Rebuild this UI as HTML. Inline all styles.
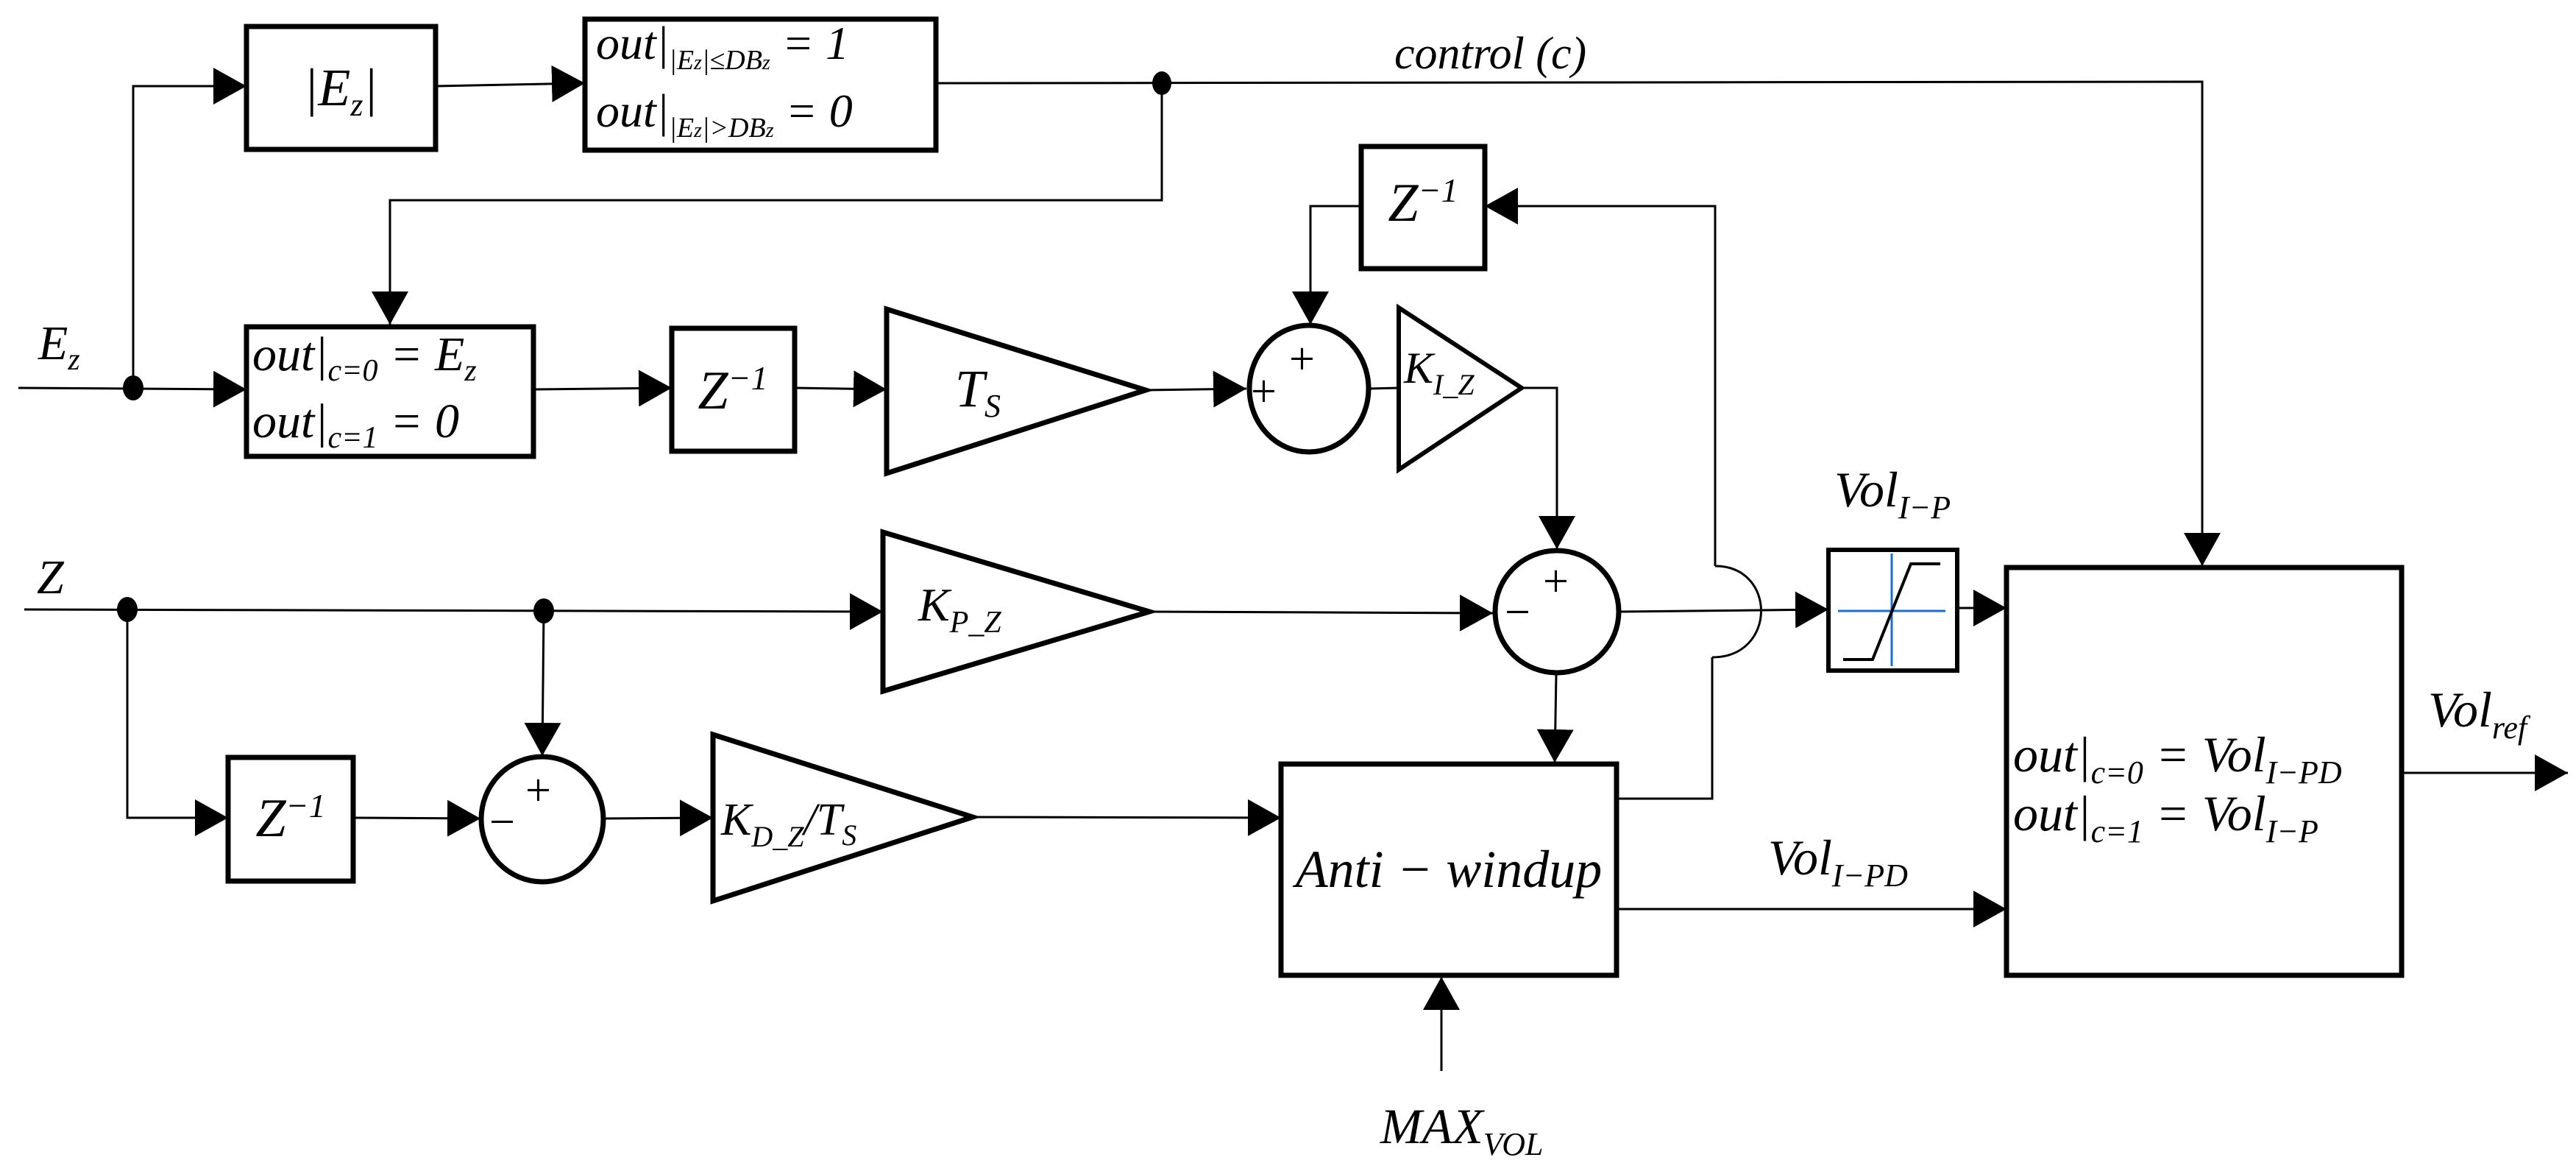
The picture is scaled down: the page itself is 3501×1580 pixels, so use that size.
<!DOCTYPE html>
<html><head><meta charset="utf-8"><style>
html,body{margin:0;padding:0;background:#fff;}
svg{display:block;}
text{font-family:"Liberation Serif",serif;font-style:italic;fill:#000;}
</style></head><body>
<svg width="3501" height="1580" viewBox="0 0 3501 1580" xmlns="http://www.w3.org/2000/svg">
<defs>
<marker id="a" viewBox="0 0 45 50" refX="45" refY="25" markerWidth="45" markerHeight="50" markerUnits="userSpaceOnUse" orient="auto"><path d="M0,0 L45,25 L0,50 Z" fill="#000"/></marker>
</defs>
<g stroke="#000" stroke-width="3" fill="none">
<line x1="25" y1="527" x2="335" y2="529" marker-end="url(#a)"/>
<polyline points="181,527 181,117 335,117" marker-end="url(#a)"/>
<line x1="592" y1="117" x2="795" y2="113" marker-end="url(#a)"/>
<polyline points="1272,113 2993,111 2993,769" marker-end="url(#a)"/>
<polyline points="1579,113 1579,272 530,272 530,441" marker-end="url(#a)"/>
<line x1="725" y1="529" x2="913" y2="527" marker-end="url(#a)"/>
<line x1="1080" y1="527" x2="1205" y2="529" marker-end="url(#a)"/>
<line x1="1557" y1="530" x2="1694" y2="528" marker-end="url(#a)"/>
<line x1="1860" y1="528" x2="1901" y2="527"/>
<polyline points="2068,527 2116,527 2116,746" marker-end="url(#a)"/>
<polyline points="1850,280 1781,280 1781,441" marker-end="url(#a)"/>
<polyline points="2197,1085 2327,1085 2327,893"/>
<path d="M2327,893 C2415,893 2415,769 2331,769"/>
<polyline points="2331,769 2331,280 2018,280" marker-end="url(#a)"/>
<line x1="33" y1="828" x2="1200" y2="831" marker-end="url(#a)"/>
<line x1="1562" y1="831" x2="2029" y2="833" marker-end="url(#a)"/>
<line x1="2202" y1="831" x2="2485" y2="828" marker-end="url(#a)"/>
<line x1="2660" y1="826" x2="2727" y2="826" marker-end="url(#a)"/>
<line x1="2115" y1="916" x2="2113" y2="1036" marker-end="url(#a)"/>
<polyline points="173,828 173,1111 310,1111" marker-end="url(#a)"/>
<line x1="739" y1="828" x2="737" y2="1027" marker-end="url(#a)"/>
<line x1="480" y1="1111" x2="653" y2="1112" marker-end="url(#a)"/>
<line x1="820" y1="1112" x2="969" y2="1111" marker-end="url(#a)"/>
<line x1="1322" y1="1110" x2="1741" y2="1111" marker-end="url(#a)"/>
<line x1="2197" y1="1235" x2="2727" y2="1235" marker-end="url(#a)"/>
<line x1="1959" y1="1455" x2="1959" y2="1327" marker-end="url(#a)"/>
<line x1="3264" y1="1050" x2="3490" y2="1050" marker-end="url(#a)"/>
</g>
<g stroke="#000" stroke-width="7" fill="#fff">
<rect x="335" y="36" width="257" height="167"/>
<rect x="795" y="26" width="477" height="178"/>
<rect x="335" y="444" width="390" height="176"/>
<rect x="913" y="446" width="167" height="167"/>
<rect x="1850" y="199" width="168" height="166"/>
<rect x="310" y="1029" width="170" height="168"/>
<rect x="1741" y="1038" width="456" height="287"/>
<rect x="2727" y="771" width="537" height="554"/>
<rect x="2485" y="747" width="175" height="164" stroke-width="6"/>
<polygon points="1205,420 1557,530 1205,643"/>
<polygon points="1901,418 2068,527 1901,638" stroke-width="6"/>
<polygon points="1200,723 1562,831 1200,939"/>
<polygon points="969,998 1322,1110 969,1224"/>
<ellipse cx="1779" cy="528" rx="81" ry="86"/>
<ellipse cx="2116" cy="831" rx="84" ry="83"/>
<ellipse cx="737" cy="1113" rx="83" ry="85"/>
</g>
<g fill="#000">
<ellipse cx="181" cy="527" rx="14" ry="17"/>
<ellipse cx="1579" cy="113" rx="13" ry="16"/>
<ellipse cx="173" cy="828" rx="14" ry="17"/>
<ellipse cx="739" cy="830" rx="14" ry="17"/>
</g>
<g fill="none">
<line x1="2498" y1="830" x2="2644" y2="830" stroke="#1a6fd0" stroke-width="3"/>
<line x1="2571" y1="752" x2="2571" y2="905" stroke="#1a6fd0" stroke-width="3"/>
<polyline points="2505,896 2545,896 2597,766 2637,766" stroke="#000" stroke-width="4"/>
</g>
<g font-size="62">
<text x="1700" y="552" style="font-style:normal">+</text>
<text x="1752" y="508" style="font-style:normal">+</text>
<text x="2097" y="810" style="font-style:normal">+</text>
<text x="2045" y="852" style="font-style:normal">−</text>
<text x="714" y="1094" style="font-style:normal">+</text>
<text x="665" y="1137" style="font-style:normal">−</text>
</g>
<g font-size="66">
<text x="463" y="143" text-anchor="middle" font-size="72">|E<tspan dy="14" font-size="44">z</tspan><tspan dy="-14">|</tspan></text>
<text x="810" y="80" font-size="64">out|<tspan dy="14" font-size="38">|E<tspan font-size="28">z</tspan>|≤DB<tspan font-size="28">z</tspan></tspan><tspan dy="-14"> = 1</tspan></text>
<text x="810" y="172" font-size="64">out|<tspan dy="14" font-size="38">|E<tspan font-size="28">z</tspan>|&gt;DB<tspan font-size="28">z</tspan></tspan><tspan dy="-14"> = 0</tspan></text>
<text x="343" y="503" font-size="66">out|<tspan dy="14" font-size="42">c=0</tspan><tspan dy="-14"> = E</tspan><tspan dy="14" font-size="42">z</tspan></text>
<text x="343" y="594" font-size="66">out|<tspan dy="14" font-size="42">c=1</tspan><tspan dy="-14"> = 0</tspan></text>
<text x="996" y="555" text-anchor="middle" font-size="74">Z<tspan dy="-26" font-size="46">−1</tspan></text>
<text x="1934" y="300" text-anchor="middle" font-size="74">Z<tspan dy="-26" font-size="46">−1</tspan></text>
<text x="395" y="1136" text-anchor="middle" font-size="74">Z<tspan dy="-26" font-size="46">−1</tspan></text>
<text x="1298" y="552" font-size="72">T<tspan dy="14" font-size="44">S</tspan></text>
<text x="1908" y="520" font-size="60">K<tspan dy="16" font-size="40">I_Z</tspan></text>
<text x="1248" y="843" font-size="64">K<tspan dy="16" font-size="42">P_Z</tspan></text>
<text x="980" y="1134" font-size="62">K<tspan dy="16" font-size="40">D_Z</tspan><tspan dy="-16">/T</tspan><tspan dy="14" font-size="40">S</tspan></text>
<text x="52" y="488" font-size="66">E<tspan dy="14" font-size="42">z</tspan></text>
<text x="50" y="806" font-size="66">Z</text>
<text x="1895" y="93" font-size="62">control (c)</text>
<text x="1969" y="1205" text-anchor="middle" font-size="72">Anti − windup</text>
<text x="2403" y="1188" font-size="68">Vol<tspan dy="16" font-size="44">I−PD</tspan></text>
<text x="2493" y="688" font-size="68">Vol<tspan dy="16" font-size="44">I−P</tspan></text>
<text x="3300" y="987" font-size="68">Vol<tspan dy="16" font-size="44">ref</tspan></text>
<text x="2736" y="1048" font-size="68">out|<tspan dy="16" font-size="44">c=0</tspan><tspan dy="-16"> = Vol</tspan><tspan dy="16" font-size="44">I−PD</tspan></text>
<text x="2736" y="1128" font-size="68">out|<tspan dy="16" font-size="44">c=1</tspan><tspan dy="-16"> = Vol</tspan><tspan dy="16" font-size="44">I−P</tspan></text>
<text x="1876" y="1553" font-size="68">MAX<tspan dy="16" font-size="44">VOL</tspan></text>
</g>
</svg>
</body></html>
